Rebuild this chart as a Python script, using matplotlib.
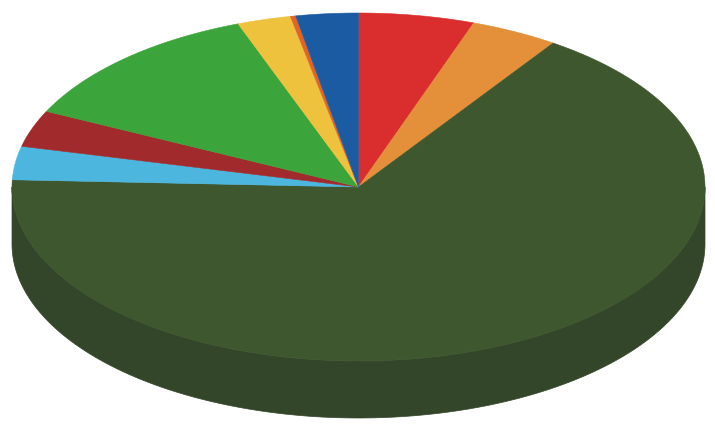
import numpy as np
import matplotlib
matplotlib.use("Agg")
import matplotlib.pyplot as plt
from matplotlib.patches import Polygon

# Slice values (share, %), clockwise from 12 o'clock
labels = ["A", "B", "C", "D", "E", "F", "G", "H", "I"]
values = [5.4, 4.1, 66.2, 3.1, 3.4, 12.2, 2.5, 0.25, 2.9]
top_colors = ["#DA2E2E", "#E48F3A", "#3E572F", "#4DB6DE", "#A02A2C",
              "#3BA43A", "#EEC23C", "#E0642A", "#1B5BA2"]
side_colors = ["#B02424", "#BA732E", "#34462A", "#3C92B2", "#801F22",
               "#2F842F", "#C09C2F", "#B25020", "#154882"]

W, H = 715, 425
fig = plt.figure(figsize=(W / 100, H / 100), dpi=100)
ax = fig.add_axes([0, 0, 1, 1])
ax.set_xlim(0, W)
ax.set_ylim(H, 0)
ax.axis("off")

cx, cy = 358.5, 187.0
a, b = 346.5, 174.0
depth = 57.0

vals = np.array(values, dtype=float)
fr = vals / vals.sum()
edges = 90.0 - 360.0 * np.concatenate([[0], np.cumsum(fr)])  # clockwise


def pt(theta_deg, dy=0.0):
    t = np.radians(theta_deg)
    return cx + a * np.cos(t), cy - b * np.sin(t) + dy


# Side walls (front half: angles between 180 and 360)
for i in range(len(vals)):
    t1, t0 = edges[i], edges[i + 1]
    for k in range(-2, 2):
        lo = max(t0, 180 + 360 * k)
        hi = min(t1, 360 + 360 * k)
        if hi > lo:
            th = np.linspace(lo, hi, 200)
            xs, ys = pt(th)
            xs2, ys2 = pt(th[::-1], depth)
            poly = np.column_stack([np.concatenate([xs, xs2]),
                                    np.concatenate([ys, ys2])])
            ax.add_patch(Polygon(poly, closed=True, facecolor=side_colors[i],
                                 edgecolor=side_colors[i], lw=0.5))

# Top face
for i in range(len(vals)):
    t1, t0 = edges[i], edges[i + 1]
    n = max(3, int(abs(t1 - t0) * 3))
    th = np.linspace(t1, t0, n)
    xs, ys = pt(th)
    poly = np.column_stack([np.concatenate([[cx], xs]),
                            np.concatenate([[cy], ys])])
    ax.add_patch(Polygon(poly, closed=True, facecolor=top_colors[i],
                         edgecolor=top_colors[i], lw=0.4))

fig.savefig("out.png", dpi=100, facecolor="white")
